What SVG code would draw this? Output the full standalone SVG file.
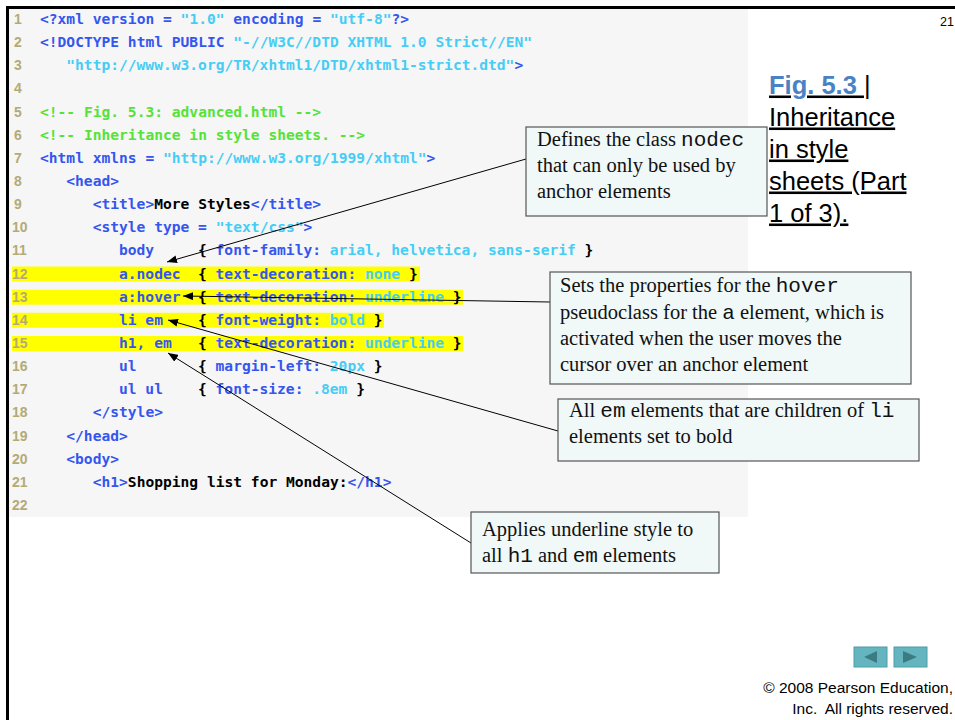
<svg xmlns="http://www.w3.org/2000/svg" width="955" height="720" viewBox="0 0 955 720">
<style>
.code{font-family:"DejaVu Sans Mono",monospace;font-size:14.6px;font-weight:bold}
.ln{font-family:"Liberation Sans",Arial,sans-serif;font-size:14px;font-weight:bold;fill:#b3ab76}
.t{fill:#3556ee}.s{fill:#46cdf5}.c{fill:#55e23a}.k{fill:#000}
.hl{fill:#ffff00}
.box rect{fill:#f0f8f8;stroke:#555;stroke-width:1.2}
.note{font-family:"Liberation Serif","Times New Roman",serif;font-size:20.5px;fill:#111}
.mono{font-family:"Liberation Mono","Courier New",monospace;font-size:21px}
.ttl{font-family:"Liberation Sans",Arial,sans-serif;font-size:25.5px;fill:#000;text-decoration:underline}
.conn line{stroke:#000;stroke-width:1}
.small{font-family:"Liberation Sans",Arial,sans-serif;fill:#000}
</style>
<defs>
<marker id="ah" markerUnits="userSpaceOnUse" markerWidth="10" markerHeight="8" refX="10" refY="4" orient="auto">
<path d="M0,0 L10,4 L0,8 z" fill="#000"/>
</marker>
</defs>
<rect x="0" y="0" width="955" height="720" fill="#fff"/>
<g id="code-panel">
<rect x="9" y="9" width="739" height="508" fill="#f6f6f6"/>
<rect class="hl" x="12" y="266.5" width="408" height="15"/>
<rect class="hl" x="12" y="289.7" width="451" height="15"/>
<rect class="hl" x="12" y="312.8" width="372" height="15"/>
<rect class="hl" x="12" y="336" width="451" height="15"/>
<g class="ln">
<text x="14" y="24">1</text><text x="14" y="47.1">2</text><text x="14" y="70.3">3</text><text x="14" y="93.4">4</text><text x="14" y="116.6">5</text><text x="14" y="139.7">6</text><text x="14" y="162.8">7</text><text x="14" y="186">8</text><text x="14" y="209.1">9</text><text x="12" y="232.3">10</text><text x="12" y="255.4">11</text><text x="12" y="278.5">12</text><text x="12" y="301.7">13</text><text x="12" y="324.8">14</text><text x="12" y="348">15</text><text x="12" y="371.1">16</text><text x="12" y="394.2">17</text><text x="12" y="417.4">18</text><text x="12" y="440.5">19</text><text x="12" y="463.7">20</text><text x="12" y="486.8">21</text><text x="12" y="509.9">22</text>
</g>
<g class="code">
<text x="40" y="24"><tspan class="t">&lt;?xml version = </tspan><tspan class="s">"1.0"</tspan><tspan class="t"> encoding = </tspan><tspan class="s">"utf-8"</tspan><tspan class="t">?&gt;</tspan></text>
<text x="40" y="47.1"><tspan class="t">&lt;!DOCTYPE html PUBLIC </tspan><tspan class="s">"-//W3C//DTD XHTML 1.0 Strict//EN"</tspan></text>
<text x="66.3" y="70.3"><tspan class="s">"http://www.w3.org/TR/xhtml1/DTD/xhtml1-strict.dtd"</tspan><tspan class="t">&gt;</tspan></text>
<text x="40" y="116.6" class="c">&lt;!-- Fig. 5.3: advanced.html --&gt;</text>
<text x="40" y="139.7" class="c">&lt;!-- Inheritance in style sheets. --&gt;</text>
<text x="40" y="162.8"><tspan class="t">&lt;html xmlns = </tspan><tspan class="s">"http://www.w3.org/1999/xhtml"</tspan><tspan class="t">&gt;</tspan></text>
<text x="66.3" y="186" class="t">&lt;head&gt;</text>
<text x="92.7" y="209.1"><tspan class="t">&lt;title&gt;</tspan><tspan class="k">More Styles</tspan><tspan class="t">&lt;/title&gt;</tspan></text>
<text x="92.7" y="232.3"><tspan class="t">&lt;style type = </tspan><tspan class="s">"text/css"</tspan><tspan class="t">&gt;</tspan></text>
<text x="119" y="255.4"><tspan class="t">body</tspan><tspan class="k" x="198">{</tspan><tspan class="t"> font-family: </tspan><tspan class="s">arial, helvetica, sans-serif</tspan><tspan class="k"> }</tspan></text>
<text x="119" y="278.5"><tspan class="t">a.nodec</tspan><tspan class="k" x="198">{</tspan><tspan class="t"> text-decoration: </tspan><tspan class="s">none</tspan><tspan class="k"> }</tspan></text>
<text x="119" y="301.7"><tspan class="t">a:hover</tspan><tspan class="k" x="198">{</tspan><tspan class="t"> text-decoration: </tspan><tspan class="s">underline</tspan><tspan class="k"> }</tspan></text>
<text x="119" y="324.8"><tspan class="t">li em</tspan><tspan class="k" x="198">{</tspan><tspan class="t"> font-weight: </tspan><tspan class="s">bold</tspan><tspan class="k"> }</tspan></text>
<text x="119" y="348"><tspan class="t">h1, em</tspan><tspan class="k" x="198">{</tspan><tspan class="t"> text-decoration: </tspan><tspan class="s">underline</tspan><tspan class="k"> }</tspan></text>
<text x="119" y="371.1"><tspan class="t">ul</tspan><tspan class="k" x="198">{</tspan><tspan class="t"> margin-left: </tspan><tspan class="s">20px</tspan><tspan class="k"> }</tspan></text>
<text x="119" y="394.2"><tspan class="t">ul ul</tspan><tspan class="k" x="198">{</tspan><tspan class="t"> font-size: </tspan><tspan class="s">.8em</tspan><tspan class="k"> }</tspan></text>
<text x="92.7" y="417.4" class="t">&lt;/style&gt;</text>
<text x="66.3" y="440.5" class="t">&lt;/head&gt;</text>
<text x="66.3" y="463.7" class="t">&lt;body&gt;</text>
<text x="92.7" y="486.8"><tspan class="t">&lt;h1&gt;</tspan><tspan class="k">Shopping list for Monday:</tspan><tspan class="t">&lt;/h1&gt;</tspan></text>
</g>
</g>
<g id="frame">
<rect x="6" y="6" width="949" height="3" fill="#000"/>
<rect x="6" y="6" width="3" height="714" fill="#000"/>
</g>
<g id="page-number"><text class="small" x="954" y="26" font-size="12.5" text-anchor="end">21</text></g>
<g id="title">
<text class="ttl" x="769" y="93.5"><tspan fill="#4a82c6" font-weight="bold">Fig. 5.3 </tspan><tspan>|</tspan></text>
<text class="ttl" x="769" y="125.5">Inheritance</text>
<text class="ttl" x="769" y="157.5">in style</text>
<text class="ttl" x="769" y="189.5">sheets (Part</text>
<text class="ttl" x="769" y="221.5">1 of 3).</text>
</g>
<g class="conn" id="connectors">
<line x1="526" y1="159" x2="167" y2="262" marker-end="url(#ah)"/>
<line x1="550" y1="302" x2="183" y2="296" marker-end="url(#ah)"/>
<line x1="558" y1="431" x2="168" y2="320" marker-end="url(#ah)"/>
<line x1="471" y1="543" x2="168" y2="353" marker-end="url(#ah)"/>
</g>
<g id="note-nodec" class="box">
<rect x="526" y="127" width="241" height="89"/>
<text class="note" x="537" y="146">Defines the class <tspan class="mono">nodec</tspan></text>
<text class="note" x="537" y="172">that can only be used by</text>
<text class="note" x="537" y="198">anchor elements</text>
</g>
<g id="note-hover" class="box">
<rect x="550" y="272" width="361" height="112"/>
<text class="note" x="560" y="292">Sets the properties for the <tspan class="mono">hover</tspan></text>
<text class="note" x="560" y="318.5">pseudoclass for the <tspan class="mono">a</tspan> element, which is</text>
<text class="note" x="560" y="345">activated when the user moves the</text>
<text class="note" x="560" y="371">cursor over an anchor element</text>
</g>
<g id="note-li-em" class="box">
<rect x="558" y="399" width="361" height="62"/>
<text class="note" x="569" y="417">All <tspan class="mono">em</tspan> elements that are children of <tspan class="mono">li</tspan></text>
<text class="note" x="569" y="443">elements set to bold</text>
</g>
<g id="note-h1-em" class="box">
<rect x="471" y="512" width="248" height="61"/>
<text class="note" x="482" y="536">Applies underline style to</text>
<text class="note" x="482" y="562">all <tspan class="mono">h1</tspan> and <tspan class="mono">em</tspan> elements</text>
</g>
<g id="nav-prev">
<rect x="854" y="647" width="33" height="20" fill="#64b5c0" stroke="#4d9ea9" stroke-width="1"/>
<polygon points="864,657 877,651 877,663" fill="#3d7b82"/>
</g>
<g id="nav-next">
<rect x="894" y="647" width="33" height="20" fill="#64b5c0" stroke="#4d9ea9" stroke-width="1"/>
<polygon points="917,657 903,651 903,663" fill="#3d7b82"/>
</g>
<g id="copyright" class="small" font-size="15.5" text-anchor="end">
<text x="953" y="693">© 2008 Pearson Education,</text>
<text x="953" y="714">Inc. <tspan dx="4">All rights reserved.</tspan></text>
</g>
</svg>
